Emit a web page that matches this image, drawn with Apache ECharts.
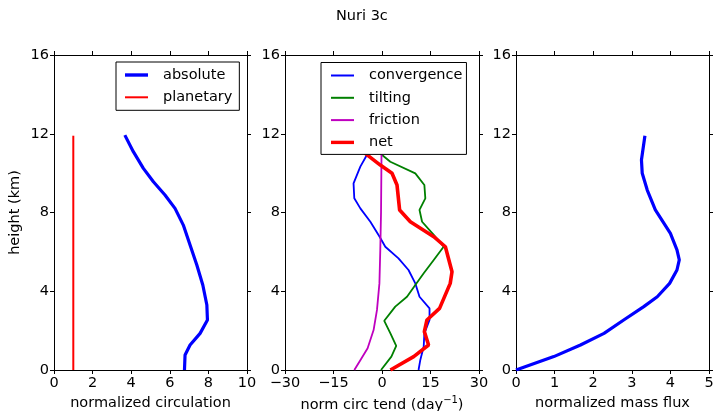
<!DOCTYPE html>
<html>
<head>
<meta charset="utf-8">
<script src="https://cdn.jsdelivr.net/npm/echarts@6/dist/echarts.min.js"></script>
<style>html,body{margin:0;padding:0;background:#fff;}#c{width:715px;height:411px;}</style>
</head>
<body>
<div id="c"></div>
<script>
// ---- data: [value, height (km)] ----
const absolute = [[6.76,0],[6.79,0.76],[7.05,1.27],[7.57,1.86],[7.95,2.54],[7.92,3.30],[7.71,4.32],[7.40,5.33],[7.05,6.35],[6.70,7.36],[6.27,8.21],[5.75,8.89],[5.15,9.56],[4.63,10.24],[4.11,11.09],[3.67,11.93]];
const planetary = [[1,0],[1,11.9]];
const convergence = [[11.3,0],[11.85,0.51],[12.9,1.19],[13.1,1.86],[14.7,2.54],[14.7,3.13],[11.6,3.72],[10.3,4.40],[8.2,5.08],[5.1,5.67],[1.02,6.26],[-0.74,6.77],[-3.6,7.53],[-6.7,8.21],[-8.57,8.72],[-8.8,9.48],[-6.7,10.33],[-4.85,10.87],[-4.5,11.5],[-4.5,12]];
const tilting = [[-0.3,0],[2.9,0.68],[4.4,1.22],[2.6,1.86],[0.7,2.50],[4.1,3.22],[7.73,3.72],[10.3,4.32],[12.9,4.91],[16,5.59],[19.06,6.26],[16,6.86],[12.4,7.53],[11.6,8.13],[13.4,8.72],[13.1,9.4],[10.3,9.99],[2.57,10.58],[-0.53,11.0],[-2,11.5],[-3,12]];
const friction = [[-8.56,0],[-6.7,0.5],[-4.45,1.1],[-2.6,2.03],[-1.55,3.05],[-0.8,4.4],[-0.53,6.09],[-0.3,8],[-0.2,10],[-0.1,12]];
const net = [[2.6,0],[9.8,0.68],[14.4,1.27],[13.1,1.95],[13.9,2.54],[17.8,3.13],[21.1,4.40],[21.65,4.99],[19.6,6.26],[16,6.77],[8.76,7.53],[5.45,8.13],[4.64,9.4],[3.1,9.99],[-0.53,10.41],[-5.2,11.0],[-6,11.5],[-6.5,12]];
const massFlux = [[0,0],[0.98,0.68],[1.67,1.27],[2.28,1.86],[2.79,2.54],[3.31,3.22],[3.66,3.72],[3.98,4.40],[4.17,5.08],[4.23,5.59],[4.17,6.1],[4.0,6.94],[3.61,8.13],[3.4,9.14],[3.27,9.99],[3.25,10.67],[3.34,11.9]];
const heightTicks = {min:0, max:16, interval:4};
const xRanges = [{min:0,max:10,interval:2},{min:-30,max:30,interval:15},{min:0,max:5,interval:1}];

const FONT = 'DejaVu Sans';
const FS = 14.5;
const chart = echarts.init(document.getElementById('c'), null, {renderer:'canvas'});
const grids = [
  {left:54, top:55, width:193, height:315, containLabel:false, outerBoundsMode:'none'},
  {left:285, top:55, width:194, height:315, containLabel:false, outerBoundsMode:'none'},
  {left:516, top:55, width:193, height:315, containLabel:false, outerBoundsMode:'none'}
];
const axisLine = {show:true, onZero:false, lineStyle:{color:'#000', width:1}};
const tick = {show:true, inside:false, length:4, lineStyle:{color:'#000', width:1}};
const minus = v => String(v).replace('-', '\u2212');
const xNames = ['normalized circulation', '{a|norm circ tend (day}{s|\u22121}{a|)}', 'normalized mass flux'];
const xAxis = [], yAxis = [];
grids.forEach((g, i) => {
  xAxis.push({type:'value', gridIndex:i, position:'bottom', ...xRanges[i],
    axisLine, axisTick:tick, splitLine:{show:false},
    axisLabel:{show:true, color:'#000', fontFamily:FONT, fontSize:FS, margin:6, formatter:minus, showMinLabel:true, showMaxLabel:true, hideOverlap:false},
    name:xNames[i], nameLocation:'middle', nameGap:24,
    nameTextStyle:{color:'#000', fontFamily:FONT, fontSize:FS,
      rich:{a:{fontFamily:FONT, fontSize:FS, color:'#000'}, s:{fontFamily:FONT, fontSize:10, color:'#000', padding:[0,0,8,0]}}}
  });
  xAxis.push({type:'value', gridIndex:i, position:'top', ...xRanges[i],
    axisLine, axisTick:tick, splitLine:{show:false}, axisLabel:{show:false}});
  yAxis.push({type:'value', gridIndex:i, position:'left', ...heightTicks,
    axisLine, axisTick:tick, splitLine:{show:false},
    axisLabel:{show:true, color:'#000', fontFamily:FONT, fontSize:FS, margin:5, showMinLabel:true, showMaxLabel:true, hideOverlap:false},
    name: i===0 ? 'height (km)' : '', nameLocation:'middle', nameGap:31, nameRotate:90,
    nameTextStyle:{color:'#000', fontFamily:FONT, fontSize:FS}
  });
  yAxis.push({type:'value', gridIndex:i, position:'right', ...heightTicks,
    axisLine, axisTick:tick, splitLine:{show:false}, axisLabel:{show:false}});
});
const line = (name, data, color, width, gi) => ({
  name, type:'line', data, xAxisIndex:gi*2, yAxisIndex:gi*2, symbol:'none',
  lineStyle:{color, width}, itemStyle:{color}, animation:false, silent:true, z:2
});
const thick = 'path://M0,0H23V3.4H0Z';
const thin = 'path://M0,0H23V2H0Z';
const legendBase = {
  orient:'vertical', borderColor:'#000', borderWidth:1, backgroundColor:'#fff', borderRadius:0,
  itemWidth:23, itemHeight:14, itemGap:6.3, selectedMode:false, z:10,
  itemStyle:{borderWidth:0},
  textStyle:{color:'#000', fontFamily:FONT, fontSize:FS, lineHeight:16, padding:[0,0,0,10]}
};
chart.setOption({
  animation:false,
  backgroundColor:'#fff',
  title:{text:'Nuri 3c', left:336, top:9, padding:0, textStyle:{color:'#000', fontFamily:FONT, fontSize:FS, fontWeight:'normal'}},
  grid:grids,
  xAxis, yAxis,
  legend:[
    {...legendBase, left:116, top:62, padding:[5,7,5,9],
      data:[{name:'absolute', icon:thick},{name:'planetary', icon:thin}]},
    {...legendBase, left:321, top:62.5, padding:[5,4,4,10],
      data:[{name:'convergence', icon:thin},{name:'tilting', icon:thin},{name:'friction', icon:thin},{name:'net', icon:thick}]}
  ],
  series:[
    line('absolute', absolute, '#0000ff', 3.2, 0),
    line('planetary', planetary, '#ff0000', 2, 0),
    line('convergence', convergence, '#0000ff', 1.8, 1),
    line('tilting', tilting, '#008000', 1.8, 1),
    line('friction', friction, '#bf00bf', 1.8, 1),
    line('net', net, '#ff0000', 3.6, 1),
    line('mass flux', massFlux, '#0000ff', 3.2, 2)
  ]
});
</script>
</body>
</html>
